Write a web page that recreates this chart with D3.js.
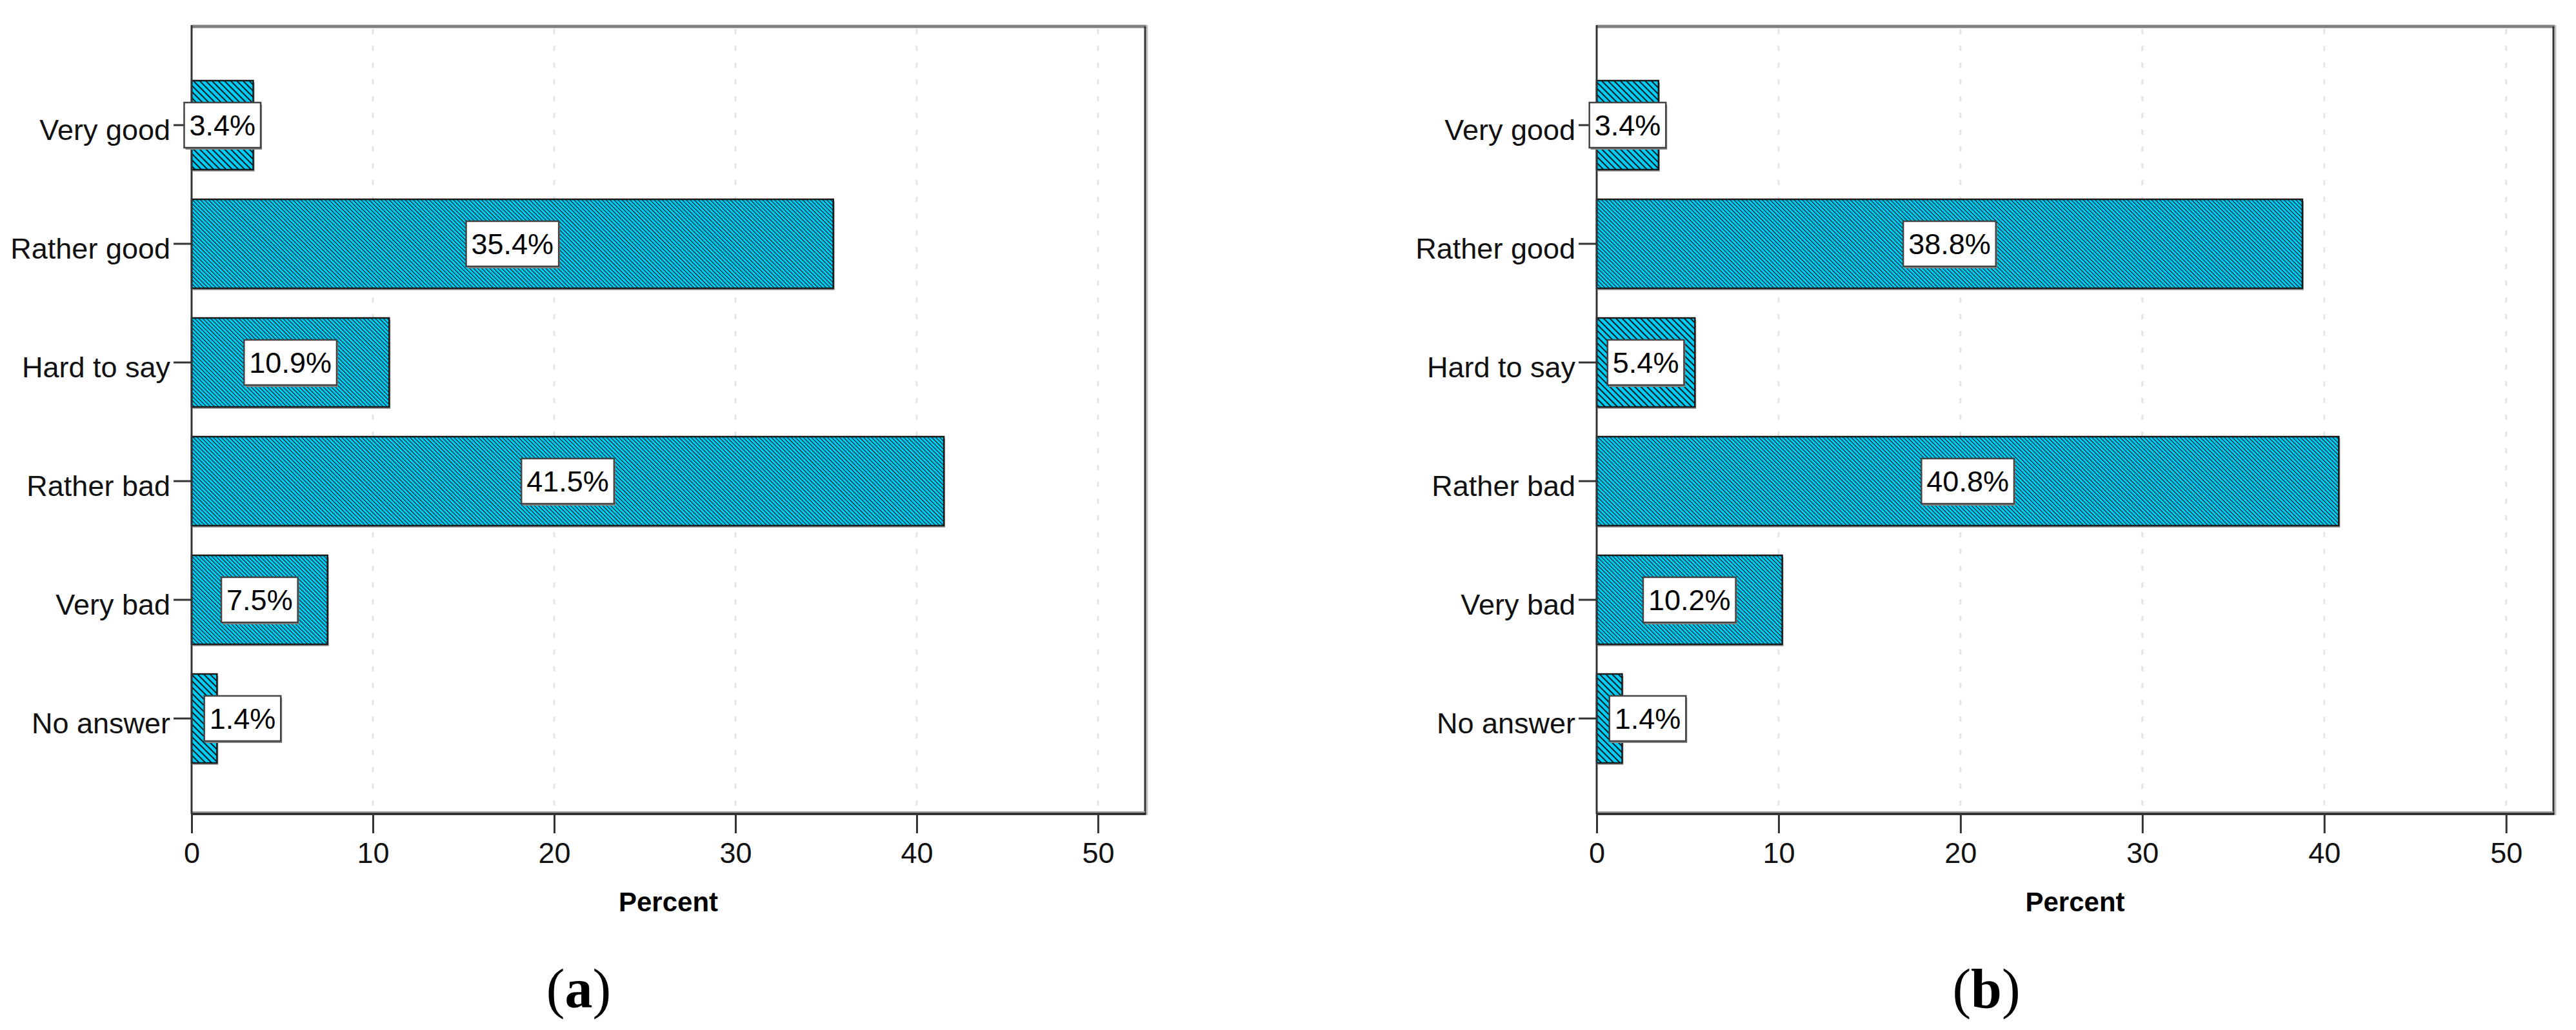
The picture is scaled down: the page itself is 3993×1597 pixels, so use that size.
<!DOCTYPE html>
<html>
<head>
<meta charset="utf-8">
<script src="https://cdn.jsdelivr.net/npm/d3@7"></script>
<style>
  html, body { margin: 0; padding: 0; background: #fff; }
  svg { display: block; }
</style>
</head>
<body>
<script>
// ---- data ----
const categories = ["Very good", "Rather good", "Hard to say", "Rather bad", "Very bad", "No answer"];
const valuesA = [3.4, 35.4, 10.9, 41.5, 7.5, 1.4];
const valuesB = [3.4, 38.8, 5.4, 40.8, 10.2, 1.4];
const xTicks = [0, 10, 20, 30, 40, 50];
const xMax = 52.6;
const panelNames = ["a", "b"];
const axisTitle = "Percent";

// ---- layout ----
const W = 3993, H = 1597;
const plotTop = 41, plotBottom = 1262;
const panels = [
  { x0: 297, x1: 1775, values: valuesA, name: panelNames[0], capX: 897 },
  { x0: 2475, x1: 3958, values: valuesB, name: panelNames[1], capX: 3079 }
];
const sans = "Arial, 'Liberation Sans', Helvetica, sans-serif";
const serif = "'Times New Roman', 'Liberation Serif', serif";
const cyan = "#00cbf4";

const svg = d3.select("body").append("svg").attr("width", W).attr("height", H);
svg.append("rect").attr("width", W).attr("height", H).attr("fill", "#fff");

const defs = svg.append("defs");
function hatch(id, period, stripe) {
  const p = defs.append("pattern").attr("id", id)
    .attr("patternUnits", "userSpaceOnUse")
    .attr("width", period).attr("height", period)
    .attr("patternTransform", "rotate(-45)");
  p.append("rect").attr("width", period).attr("height", period).attr("fill", cyan);
  p.append("rect").attr("x", 0).attr("y", 0).attr("width", stripe).attr("height", period).attr("fill", "#0a0a0a");
}
hatch("hatchFine", 4.4, 1.05);
hatch("hatchCoarse", 6.8, 1.8);

const y = d3.scaleBand().domain(categories).range([102, 1206]).paddingInner(0.25).paddingOuter(0.125);

panels.forEach(pn => {
  const g = svg.append("g");
  const x = d3.scaleLinear().domain([0, xMax]).range([pn.x0, pn.x1]);
  const data = categories.map((c, i) => ({ cat: c, v: pn.values[i] }));

  // gridlines
  g.append("g").selectAll("line").data(xTicks.filter(t => t > 0)).join("line")
    .attr("x1", d => x(d)).attr("x2", d => x(d))
    .attr("y1", plotTop + 4).attr("y2", plotBottom - 3)
    .attr("stroke", "#e4e4e4").attr("stroke-width", 3)
    .attr("stroke-dasharray", "8,18");

  // bars: shadow + hatched fill
  const bars = g.append("g");
  bars.selectAll("rect.shadow").data(data).join("rect").attr("class", "shadow")
    .attr("x", x(0) + 2).attr("y", d => y(d.cat) + 3)
    .attr("width", d => x(d.v) - x(0)).attr("height", y.bandwidth())
    .attr("fill", "#a0a0a0");
  bars.selectAll("rect.bar").data(data).join("rect").attr("class", "bar")
    .attr("x", x(0)).attr("y", d => y(d.cat))
    .attr("width", d => x(d.v) - x(0)).attr("height", y.bandwidth())
    .attr("fill", d => (x(d.v) - x(0)) < 160 ? "url(#hatchCoarse)" : "url(#hatchFine)")
    .attr("stroke", "#1a1a1a").attr("stroke-width", 2.5);

  // frame
  g.append("line").attr("x1", pn.x0).attr("x2", pn.x1 + 2).attr("y1", plotTop).attr("y2", plotTop)
    .attr("stroke", "#808080").attr("stroke-width", 5);
  g.append("line").attr("x1", pn.x1 + 3).attr("x2", pn.x1 + 3).attr("y1", plotTop - 2).attr("y2", plotBottom + 2)
    .attr("stroke", "#c4c4c4").attr("stroke-width", 3);
  g.append("line").attr("x1", pn.x1).attr("x2", pn.x1).attr("y1", plotTop).attr("y2", plotBottom)
    .attr("stroke", "#333").attr("stroke-width", 3);
  g.append("line").attr("x1", pn.x0).attr("x2", pn.x1).attr("y1", plotBottom - 3).attr("y2", plotBottom - 3)
    .attr("stroke", "#9a9a9a").attr("stroke-width", 2);
  g.append("line").attr("x1", pn.x0).attr("x2", pn.x1 + 1.5).attr("y1", plotBottom).attr("y2", plotBottom)
    .attr("stroke", "#222").attr("stroke-width", 3.5);
  g.append("line").attr("x1", pn.x0).attr("x2", pn.x0).attr("y1", plotTop - 2).attr("y2", plotBottom)
    .attr("stroke", "#333").attr("stroke-width", 3);

  // x axis
  const xa = g.append("g").attr("transform", `translate(0,${plotBottom})`)
    .call(d3.axisBottom(x).tickValues(xTicks).tickSize(30).tickPadding(14).tickFormat(d3.format("d")));
  xa.select(".domain").remove();
  xa.selectAll(".tick line").attr("stroke", "#333").attr("stroke-width", 3);
  xa.selectAll(".tick text").attr("font-family", sans).attr("font-size", 45).attr("fill", "#111");

  // y axis
  const ya = g.append("g").attr("transform", `translate(${pn.x0},0)`)
    .call(d3.axisLeft(y).tickSize(28).tickPadding(5));
  ya.select(".domain").remove();
  ya.selectAll(".tick line").attr("stroke", "#333").attr("stroke-width", 3);
  ya.selectAll(".tick text").attr("font-family", sans).attr("font-size", 45).attr("fill", "#111").attr("dy", "0.5em");

  // axis title
  g.append("text").attr("x", (pn.x0 + pn.x1) / 2).attr("y", 1413)
    .attr("text-anchor", "middle").attr("font-family", sans).attr("font-weight", "bold")
    .attr("font-size", 42).attr("fill", "#000").text(axisTitle);

  // value labels
  const lab = g.append("g");
  data.forEach(d => {
    const lg = lab.append("g");
    const cy = y(d.cat) + y.bandwidth() / 2;
    const t = lg.append("text").attr("font-family", sans).attr("font-size", 45).attr("fill", "#000")
      .attr("text-anchor", "middle").text(d.v.toFixed(1) + "%");
    const tw = t.node().getComputedTextLength();
    const bw = tw + 16, bh = 70;
    const cx = x(d.v / 2);
    let bx = cx - bw / 2;
    if (bx < pn.x0 - 20) bx = cx;
    const by = cy - bh / 2;
    lg.insert("rect", "text").attr("x", bx + 2).attr("y", by + 3).attr("width", bw).attr("height", bh).attr("fill", "#8a8a8a");
    lg.insert("rect", "text").attr("x", bx).attr("y", by).attr("width", bw).attr("height", bh)
      .attr("fill", "#fff").attr("stroke", "#444").attr("stroke-width", 2.5);
    t.attr("x", bx + bw / 2).attr("y", cy + 16);
  });

  // panel caption
  const cap = svg.append("text").attr("x", pn.capX).attr("y", 1562).attr("text-anchor", "middle")
    .attr("font-family", serif).attr("font-size", 86).attr("fill", "#000");
  cap.append("tspan").text("(");
  cap.append("tspan").attr("font-weight", "bold").text(pn.name);
  cap.append("tspan").text(")");
});
</script>
</body>
</html>
